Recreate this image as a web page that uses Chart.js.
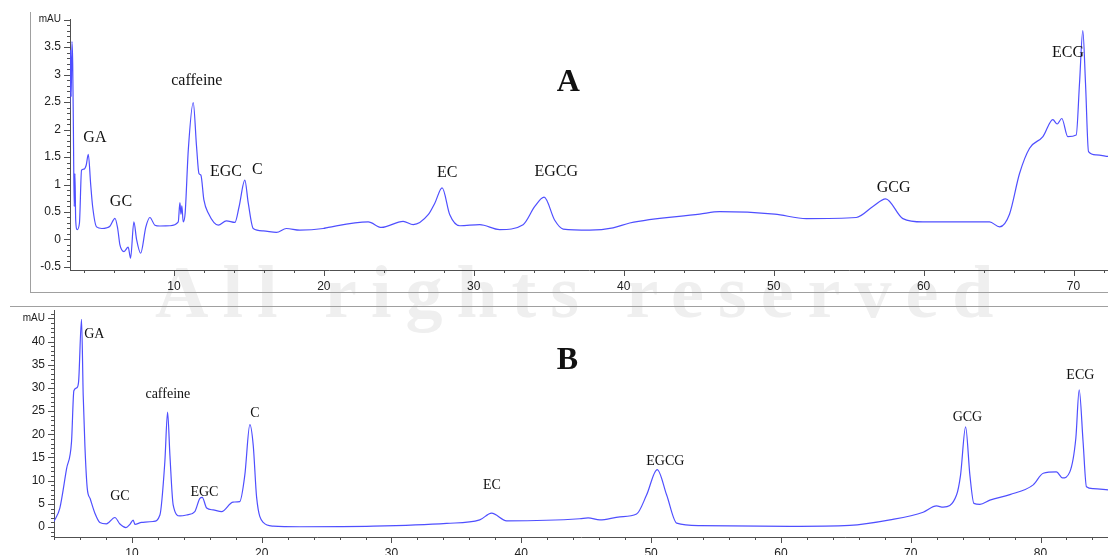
<!DOCTYPE html>
<html>
<head>
<meta charset="utf-8">
<script src="https://cdn.jsdelivr.net/npm/chart.js@4.4.1/dist/chart.umd.min.js"></script>
<style>
  body { margin: 0; background: #fff; }
  #wrap { position: relative; width: 1108px; height: 555px; overflow: hidden; background: #fff; }
  canvas { position: absolute; left: 0; }
  #chartA { top: 0; }
  #chartB { top: 295px; }
  .frame { position: absolute; background: #a0a0a0; }
  #mark { position: absolute; left: 155px; top: 250px; font: bold 74px "Liberation Serif", serif;
          color: #efefef; letter-spacing: 14px; white-space: nowrap; }
</style>
</head>
<body>
<div id="wrap">
  <div id="mark">All rights reserved</div>
  <div class="frame" style="left:30px; top:12px; width:1px; height:281px;"></div>
  <div class="frame" style="left:30px; top:292px; width:1078px; height:1px;"></div>
  <div class="frame" style="left:10px; top:306px; width:1098px; height:1px;"></div>
  <canvas id="chartA" width="1108" height="292"></canvas>
  <canvas id="chartB" width="1108" height="260"></canvas>
</div>
<script>
// chromatogram A (retention time, min / absorbance, mAU)
const timeA = [3.0, 3.05, 3.1, 3.15, 3.2, 3.25, 3.3, 3.35, 3.4, 3.45, 3.55, 3.7, 3.84, 4.0, 4.15, 4.29, 4.45, 4.58, 4.84,
  5.2, 5.5, 5.73, 6.07, 6.25, 6.4, 6.67, 6.95, 7.11, 7.33, 7.51, 7.78, 8.13, 8.4, 8.73, 9.07, 9.73, 10.29, 10.4, 10.47,
  10.53, 10.62, 10.75, 10.96, 11.29, 11.51, 11.67, 11.8, 12.0, 12.29, 12.96, 13.5, 14.07, 14.35, 14.73, 14.96, 15.29,
  15.96, 16.84, 17.5, 18.4, 19.96, 20.3, 22.96, 23.84, 25.29, 25.96, 26.96, 27.4, 27.89, 28.4, 29.07, 30.4, 31.73,
  33.29, 34.07, 34.69, 35.4, 35.96, 37.73, 39.29, 40.4, 45.07, 46.4, 50.07, 52.18, 55.51, 56.62, 57.47, 58.62, 59.96,
  64.4, 65.07, 65.73, 66.4, 67.07, 67.96, 68.62, 68.91, 69.22, 69.62, 70.18, 70.4, 70.62, 70.8, 71.0, 71.51, 72.3];
const signalA = [3.85, 2.3, 3.45, 2.6, 3.6, 3.2, 1.9, 0.6, 1.2, 0.35, 0.18, 0.3, 1.26, 1.28, 1.35, 1.55, 1.0, 0.6, 0.23,
  0.2, 0.21, 0.24, 0.385, 0.2, -0.1, -0.22, -0.14, -0.34, 0.32, 0.0, -0.25, 0.23, 0.4, 0.26, 0.245, 0.25, 0.32, 0.67, 0.46,
  0.61, 0.32, 0.48, 1.63, 2.49, 1.69, 1.2, 1.17, 0.72, 0.48, 0.26, 0.34, 0.31, 0.6, 1.08, 0.66, 0.2,
  0.155, 0.13, 0.2, 0.17, 0.2, 0.22, 0.32, 0.22, 0.33, 0.27, 0.45, 0.66, 0.94, 0.45, 0.25, 0.27, 0.18,
  0.27, 0.6, 0.77, 0.35, 0.19, 0.17, 0.21, 0.3, 0.46, 0.505, 0.46, 0.38, 0.4, 0.6, 0.74, 0.38, 0.32,
  0.32, 0.23, 0.46, 1.2, 1.66, 1.87, 2.18, 2.1, 2.2, 1.87, 1.9, 2.84, 3.8, 2.84, 1.6, 1.54, 1.51];

// chromatogram B
const timeB = [4.0, 4.45, 4.97, 5.35, 5.53, 5.74, 5.89, 6.12, 6.25, 6.38, 6.56, 6.79, 7.15, 7.53, 8.04, 8.69, 9.08, 9.54,
  9.85, 10.1, 10.23, 10.75, 11.64, 12.16, 12.54, 12.75, 12.93, 13.18, 13.7, 14.21, 14.85, 15.24, 15.42, 15.76, 16.26,
  16.91, 17.8, 18.31, 18.7, 19.09, 19.35, 19.61, 20.12, 20.89, 22.94, 28.6, 34.25, 36.8, 37.71, 38.87, 44.5, 45.15,
  46.05, 47.6, 48.88, 49.65, 50.47, 51.2, 51.97, 53.76, 60.7, 65.3, 68.4, 70.96, 71.99, 72.5, 73.53, 73.84, 74.23,
  74.56, 74.87, 75.33, 76.1, 77.64, 79.44, 80.21, 81.23, 81.69, 82.26, 82.72, 82.98, 83.28, 83.54, 84.05, 85.2];
const signalB = [1.2, 4.1, 12.6, 18.4, 29.4, 30, 31.2, 44.8, 28.4, 17.6, 8.4, 6.1, 3.0, 1.0, 0.7, 2.06, 0.65, -0.1,
  0.6, 1.5, 0.6, 1.0, 1.2, 2.6, 14.1, 24.8, 15.5, 4.8, 2.4, 2.6, 3.35, 6.2, 6.4, 4.1, 3.7,
  3.35, 5.4, 5.5, 11.2, 22.1, 17.6, 6.4, 1.0, 0.2, 0.07, 0.2, 0.8, 1.55, 3.0, 1.35, 1.8, 2.0,
  1.55, 2.2, 2.8, 6.9, 12.4, 6.9, 0.85, 0.3, 0.15, 0.35, 1.55, 3.2, 4.55, 4.3, 6.9, 11.2, 21.6,
  11.2, 5.1, 4.9, 5.8, 7.0, 9.1, 11.6, 11.9, 10.6, 11.9, 19.1, 29.6, 18.4, 8.7, 8.3, 8.0];

// peak names, placed at (time, mAU)
const peaksA = ['GA', 'GC', 'caffeine', 'EGC', 'C', 'EC', 'EGCG', 'GCG', 'ECG'];
const peaksAt = [4.73, 6.47, 11.53, 13.47, 15.57, 28.23, 35.5, 58.0, 69.63];
const peaksAv = [1.85, 0.68, 2.89, 1.23, 1.26, 1.21, 1.23, 0.94, 3.39];
const peaksB = ['GA', 'GC', 'caffeine', 'EGC', 'C', 'EC', 'EGCG', 'GCG', 'ECG'];
const peaksBt = [7.11, 9.08, 12.77, 15.59, 19.48, 37.73, 51.1, 74.37, 83.07];
const peaksBv = [41.65, 6.56, 28.6, 7.57, 24.5, 8.92, 14.28, 23.64, 32.8];

const axisColor = '#505050';

// tick marks (majors longer than minors) and peak names
const extras = {
  id: 'extras',
  afterDraw(chart, args, o) {
    const { ctx, chartArea, scales: { x, y } } = chart;
    ctx.save();
    ctx.strokeStyle = axisColor;
    ctx.lineWidth = 1;
    ctx.beginPath();
    for (let i = Math.ceil(x.min / o.xMinor); i * o.xMinor <= x.max; i++) {
      const px = Math.round(x.getPixelForValue(i * o.xMinor)) + 0.5;
      const len = i % o.xEvery === 0 ? 6 : 3;
      ctx.moveTo(px, chartArea.bottom);
      ctx.lineTo(px, chartArea.bottom + len);
    }
    for (let i = Math.ceil(y.min / o.yMinor); i * o.yMinor <= y.max; i++) {
      const py = Math.round(y.getPixelForValue(i * o.yMinor)) + 0.5;
      const len = i % o.yEvery === 0 ? 6 : 3;
      ctx.moveTo(chartArea.left, py);
      ctx.lineTo(chartArea.left - len, py);
    }
    ctx.stroke();

    ctx.fillStyle = '#111';
    ctx.textAlign = 'center';
    ctx.textBaseline = 'middle';
    ctx.font = o.font;
    o.names.forEach((n, i) => {
      ctx.fillText(n, x.getPixelForValue(o.at[i]), y.getPixelForValue(o.av[i]));
    });
    ctx.font = 'bold 32px "Liberation Serif", serif';
    ctx.fillText(o.title, x.getPixelForValue(o.titlePos[0]), y.getPixelForValue(o.titlePos[1]));
    ctx.restore();
  }
};

function makeChart(id, times, values, cfg) {
  return new Chart(document.getElementById(id), {
    type: 'line',
    data: {
      datasets: [{
        data: times.map((t, i) => ({ x: t, y: values[i] })),
        borderColor: '#4f4fff',
        borderWidth: 1.2,
        pointRadius: 0,
        cubicInterpolationMode: 'monotone',
        fill: false
      }]
    },
    options: {
      responsive: false,
      animation: false,
      layout: { padding: { top: cfg.padTop, right: 0, left: 0, bottom: 0 } },
      plugins: { legend: { display: false }, tooltip: { enabled: false }, extras: cfg.extras },
      scales: {
        x: {
          type: 'linear', min: cfg.xMin, max: cfg.xMax,
          grid: { display: false, drawTicks: false },
          border: { display: true, color: axisColor },
          ticks: { stepSize: 10, includeBounds: false, padding: cfg.xPad, color: '#222', maxRotation: 0,
                   font: { family: '"Liberation Sans", Arial, sans-serif', size: 12 } },
          afterFit: s => { s.height = cfg.xHeight; }
        },
        y: {
          min: cfg.yMin, max: cfg.yMax,
          grid: { display: false, drawTicks: false },
          border: { display: true, color: axisColor },
          ticks: {
            stepSize: cfg.yStep, includeBounds: false, padding: 9, color: '#222',
            callback: v => (Math.abs(v - cfg.yTop) < 1e-6 ? 'mAU' : String(v)),
            font: c => ({ family: '"Liberation Sans", Arial, sans-serif',
                          size: c.tick && Math.abs(c.tick.value - cfg.yTop) < 1e-6 ? 10 : 12 })
          },
          afterFit: s => { s.width = cfg.yWidth; }
        }
      }
    },
    plugins: [extras]
  });
}

makeChart('chartA', timeA, signalA, {
  padTop: 19, xMin: 3.07, xMax: 72.3, xHeight: 22, xPad: 9,
  yMin: -0.555, yMax: 4.01, yStep: 0.5, yTop: 4, yWidth: 70,
  extras: { xMinor: 2, xEvery: 5, yMinor: 0.1, yEvery: 5,
            names: peaksA, at: peaksAt, av: peaksAv, font: '16px "Liberation Serif", serif',
            title: 'A', titlePos: [36.3, 2.85] }
});

makeChart('chartB', timeB, signalB, {
  padTop: 14, xMin: 4.0, xMax: 85.2, xHeight: 18, xPad: 9,
  yMin: -2.14, yMax: 46.8, yStep: 5, yTop: 45, yWidth: 54,
  extras: { xMinor: 2, xEvery: 5, yMinor: 1, yEvery: 5,
            names: peaksB, at: peaksBt, av: peaksBv, font: '14px "Liberation Serif", serif',
            title: 'B', titlePos: [43.55, 35.9] }
});
</script>
</body>
</html>
